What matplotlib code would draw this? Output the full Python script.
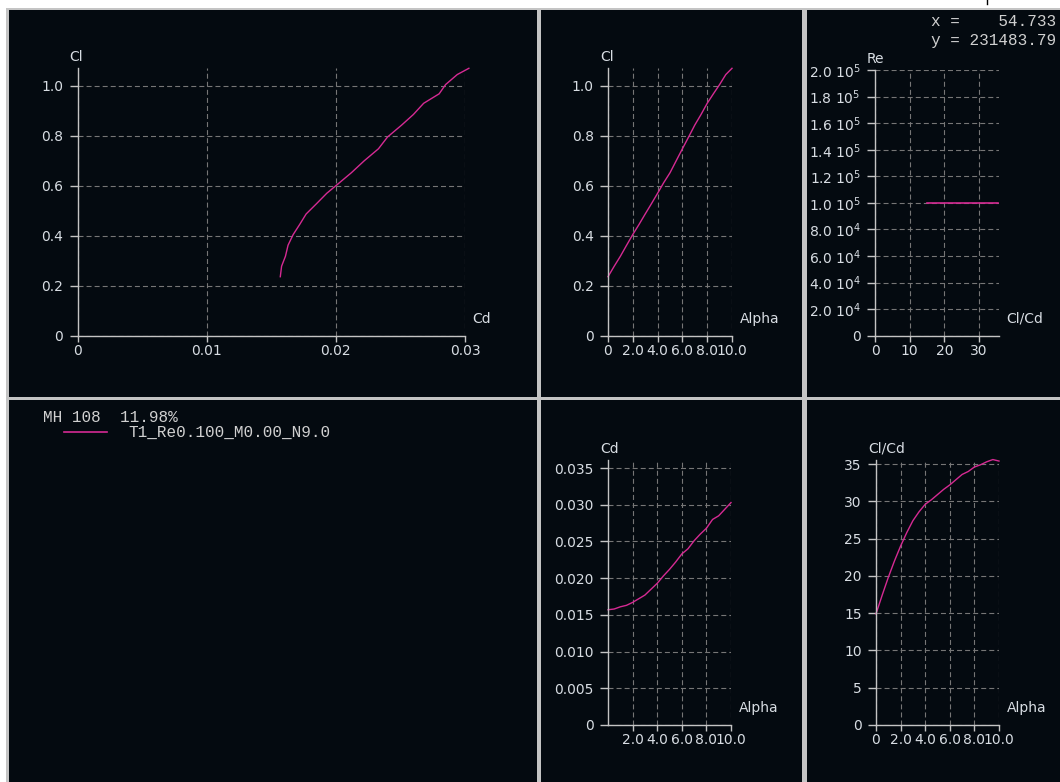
import matplotlib
matplotlib.use("Agg")
import matplotlib.pyplot as plt
from matplotlib.lines import Line2D
from matplotlib.patches import Rectangle

# polar T1_Re0.100_M0.00_N9.0 of MH 108
alpha = [0.0, 0.5, 1.0, 1.5, 2.0, 2.5, 3.0, 3.5, 4.0, 4.5, 5.0,
         5.5, 6.0, 6.5, 7.0, 7.5, 8.0, 8.5, 9.0, 9.5, 10.0]
cl = [0.236, 0.278, 0.318, 0.362, 0.405, 0.445, 0.487, 0.528, 0.570, 0.613, 0.652,
      0.700, 0.748, 0.795, 0.843, 0.885, 0.930, 0.968, 1.005, 1.045, 1.070]
cd = [0.0157, 0.0158, 0.0161, 0.0163, 0.0167, 0.0172, 0.0177, 0.0185, 0.0193, 0.0203, 0.0212,
      0.0222, 0.0233, 0.0240, 0.0251, 0.0260, 0.0268, 0.0280, 0.0285, 0.0294, 0.0303]
cl_cd = [14.9, 17.4, 19.8, 22.0, 24.0, 25.8, 27.4, 28.6, 29.6, 30.2, 30.9,
         31.6, 32.2, 32.9, 33.6, 34.0, 34.6, 34.9, 35.3, 35.6, 35.4]
reynolds = [100000] * len(alpha)

foil_name = "MH 108  11.98%"
polar_name = "T1_Re0.100_M0.00_N9.0"
cursor_x = "x =    54.733"
cursor_y = "y = 231483.79"

W, H = 1060, 782
BG = "#040a10"
FG = "#d8dde3"
EDGE = "#c4c4c4"
GRID = "#767676"
CURVE = "#d62a93"
MONO = "Liberation Mono"

plt.rcParams["lines.scale_dashes"] = False
plt.rcParams["font.family"] = ["DejaVu Sans"]
plt.rcParams["mathtext.default"] = "regular"

fig = plt.figure(figsize=(W / 100, H / 100), dpi=100, facecolor="white")


def box(x0, y0, x1, y1):
    # pixel rectangle (top-left origin) -> figure fraction rect
    return [x0 / W, 1 - y1 / H, (x1 - x0) / W, (y1 - y0) / H]


def rect(x0, y0, x1, y1, color):
    l, b, w, h = box(x0, y0, x1, y1)
    fig.add_artist(Rectangle((l, b), w, h, transform=fig.transFigure,
                             facecolor=color, edgecolor="none", zorder=0))


# window frame and the six dark panels
rect(6, 8, W, H, EDGE)
for p in [(9, 10, 537, 397), (541, 10, 802, 397), (807, 10, W, 397),
          (9, 400, 537, H), (541, 400, 802, H), (807, 400, W, H)]:
    rect(*p, BG)
fig.add_artist(Line2D([987 / W, 987 / W], [1, 1 - 4 / H], transform=fig.transFigure,
                      color="black", linewidth=1))


def graph(px, xlim, ylim, xticks, xlabels, yticks, ylabels, xname, yname):
    ax = fig.add_axes(box(*px))
    ax.set_facecolor("none")
    ax.set_xlim(xlim)
    ax.set_ylim(ylim)
    for s in ("top", "right"):
        ax.spines[s].set_visible(False)
    for s in ("left", "bottom"):
        ax.spines[s].set_color(EDGE)
        ax.spines[s].set_linewidth(1.0)
    ax.set_xticks(xticks)
    ax.set_xticklabels(xlabels)
    ax.set_yticks(yticks)
    ax.set_yticklabels(ylabels)
    ax.tick_params(axis="both", colors=EDGE, labelcolor=FG, labelsize=10, width=1.0)
    ax.tick_params(axis="y", length=5.8, pad=4.5)
    ax.tick_params(axis="x", length=4.3, pad=1.5)
    ax.grid(True, color=GRID, linewidth=0.8, linestyle=(0, (3.6, 2.2)))
    ax.set_axisbelow(True)
    ax.annotate(yname, xy=(0, 1), xycoords="axes fraction", xytext=(-8, 11),
                textcoords="offset pixels", ha="left", va="center", color=FG, fontsize=10)
    ax.annotate(xname, xy=(1, 0), xycoords="axes fraction", xytext=(7.5, 17),
                textcoords="offset pixels", ha="left", va="center", color=FG, fontsize=10)
    return ax


cl_ticks = [0, 0.2, 0.4, 0.6, 0.8, 1.0]
cl_labels = ["0", "0.2", "0.4", "0.6", "0.8", "1.0"]
a_ticks = [0, 2, 4, 6, 8, 10]
a_labels = ["0", "2.0", "4.0", "6.0", "8.0", "10.0"]

# Cl vs Cd
ax1 = graph((77.5, 68.3, 465, 335.7), (0, 0.03), (0, 1.07),
            [0, 0.01, 0.02, 0.03], ["0", "0.01", "0.02", "0.03"],
            cl_ticks, cl_labels, "Cd", "Cl")
ax1.plot(cd, cl, color=CURVE, linewidth=1.0, clip_on=False)

# Cl vs Alpha
ax2 = graph((608, 68.3, 732, 335.7), (0, 10), (0, 1.07),
            a_ticks, a_labels, cl_ticks, cl_labels, "Alpha", "Cl")
ax2.plot(alpha, cl, color=CURVE, linewidth=1.0, clip_on=False)

# Re vs Cl/Cd
re_ticks = [i * 20000 for i in range(11)]
re_labels = ["0"] + ["%.1f 10$^{4}$" % (v / 1e4) for v in re_ticks[1:5]] + \
            ["%.1f 10$^{5}$" % (v / 1e5) for v in re_ticks[5:]]
ax3 = graph((875, 70, 999, 335.7), (0, 35.8), (0, 200000),
            [0, 10, 20, 30], ["0", "10", "20", "30"],
            re_ticks, re_labels, "Cl/Cd", "Re")
ax3.plot(cl_cd, reynolds, color=CURVE, linewidth=1.2, clip_on=False)

# Cd vs Alpha
ax4 = graph((608, 460, 731, 725), (0, 10), (0, 0.0361),
            a_ticks[1:], a_labels[1:],
            [0, 0.005, 0.01, 0.015, 0.02, 0.025, 0.03, 0.035],
            ["0", "0.005", "0.010", "0.015", "0.020", "0.025", "0.030", "0.035"],
            "Alpha", "Cd")
ax4.plot(alpha, cd, color=CURVE, linewidth=1.0, clip_on=False)

# Cl/Cd vs Alpha
ax5 = graph((876, 460, 999, 725), (0, 10), (0, 35.54),
            a_ticks, a_labels,
            [0, 5, 10, 15, 20, 25, 30, 35], ["0", "5", "10", "15", "20", "25", "30", "35"],
            "Alpha", "Cl/Cd")
ax5.plot(alpha, cl_cd, color=CURVE, linewidth=1.0, clip_on=False)

# legend block and cursor readout
fig.text(43 / W, 1 - 417 / H, foil_name, family=MONO, fontsize=11.5,
         color="#d0d0d0", ha="left", va="center")
fig.add_artist(Line2D([64 / W, 107 / W], [1 - 432 / H, 1 - 432 / H],
                      transform=fig.transFigure, color=CURVE, linewidth=1.2))
fig.text(128 / W, 1 - 432 / H, polar_name, family=MONO, fontsize=11.5,
         color="#d0d0d0", ha="left", va="center")
fig.text(931 / W, 1 - 22 / H, cursor_x, family=MONO, fontsize=11.5,
         color="#d0d0d0", ha="left", va="center")
fig.text(931 / W, 1 - 40 / H, cursor_y, family=MONO, fontsize=11.5,
         color="#d0d0d0", ha="left", va="center")

fig.savefig("out.png", dpi=100, facecolor=fig.get_facecolor())
